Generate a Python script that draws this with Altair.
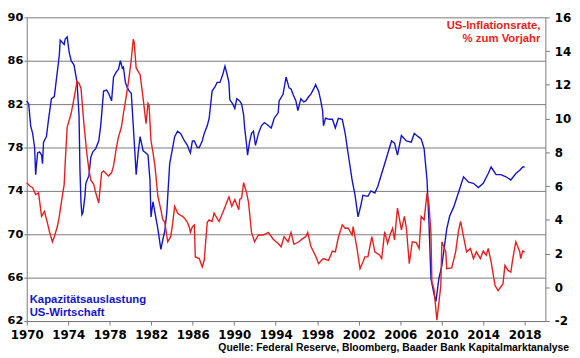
import altair as alt
import pandas as pd

# Capacity utilisation (left axis, %)
cu_year = [1970.00, 1970.19, 1970.38, 1970.57, 1970.76, 1970.86, 1970.95, 1971.05, 1971.24, 1971.43,
           1971.52, 1971.62, 1971.90, 1972.09, 1972.38, 1972.66, 1972.95, 1973.14, 1973.23, 1973.42,
           1973.61, 1973.71, 1973.90, 1974.09, 1974.28, 1974.56, 1974.85, 1975.04, 1975.13, 1975.23,
           1975.32, 1975.42, 1975.61, 1975.70, 1975.99, 1976.18, 1976.37, 1976.65, 1976.94, 1977.13,
           1977.41, 1977.70, 1977.89, 1978.18, 1978.37, 1978.65, 1978.84, 1979.03, 1979.22, 1979.32,
           1979.51, 1979.70, 1979.89, 1980.08, 1980.27, 1980.46, 1980.55, 1980.74, 1980.93, 1981.22,
           1981.50, 1981.69, 1981.88, 1981.98, 1982.17, 1982.36, 1982.64, 1982.93, 1983.12, 1983.31,
           1983.50, 1983.78, 1984.07, 1984.26, 1984.54, 1984.83, 1985.21, 1985.49, 1985.68, 1985.78,
           1985.97, 1986.16, 1986.44, 1986.63, 1986.92, 1987.11, 1987.40, 1987.59, 1987.87, 1988.16,
           1988.35, 1988.63, 1988.92, 1989.11, 1989.30, 1989.49, 1989.58, 1989.87, 1990.06, 1990.25,
           1990.53, 1990.72, 1990.91, 1991.01, 1991.20, 1991.29, 1991.48, 1991.67, 1991.86, 1992.05,
           1992.34, 1992.62, 1992.91, 1993.19, 1993.57, 1993.86, 1994.24, 1994.33, 1994.71, 1995.00,
           1995.29, 1995.48, 1995.67, 1995.95, 1996.14, 1996.43, 1996.71, 1996.90, 1997.19, 1997.38,
           1997.66, 1997.85, 1998.14, 1998.33, 1998.52, 1998.61, 1998.80, 1999.18, 1999.47, 1999.75,
           2000.04, 2000.42, 2000.70, 2000.99, 2001.37, 2001.65, 2001.94, 2002.22, 2002.41, 2002.89,
           2003.18, 2003.56, 2003.84, 2004.22, 2004.51, 2004.79, 2005.17, 2005.46, 2005.74, 2005.93,
           2006.12, 2006.60, 2007.07, 2007.36, 2007.74, 2008.02, 2008.31, 2008.59, 2008.78, 2008.97,
           2009.26, 2009.45, 2009.73, 2010.02, 2010.49, 2010.78, 2011.16, 2011.64, 2012.11, 2012.59,
           2013.06, 2013.54, 2014.01, 2014.49, 2014.77, 2015.25, 2015.72, 2016.20, 2016.67, 2017.15,
           2017.53, 2017.81, 2018.00]
cu_value = [82.3, 82.0, 80.0, 79.3, 78.0, 75.5, 76.5, 77.5, 77.6, 77.3,
            76.5, 78.5, 79.0, 80.5, 82.5, 82.7, 85.0, 86.5, 87.9, 87.7,
            87.5, 88.0, 88.2, 86.8, 86.0, 85.6, 84.0, 81.0, 76.0, 72.9,
            71.8, 72.0, 73.5, 74.7, 75.4, 77.1, 77.6, 77.9, 78.6, 80.0,
            83.2, 83.3, 83.0, 82.3, 84.5, 85.0, 85.2, 86.0, 85.3, 85.4,
            84.0, 83.5, 83.2, 83.0, 80.0, 77.0, 75.5, 77.5, 79.0, 77.7,
            77.5, 77.3, 75.0, 71.6, 73.0, 72.0, 70.5, 68.6, 69.5, 70.3,
            72.0, 76.5, 78.0, 79.0, 79.5, 79.3, 78.6, 78.2, 77.7, 77.5,
            78.6, 78.6, 78.0, 78.0, 78.6, 79.3, 80.0, 80.7, 83.2, 83.6,
            84.0, 84.0, 84.8, 85.5, 84.8, 84.0, 82.4, 82.0, 81.6, 82.5,
            82.3, 82.0, 81.0, 79.8, 78.2, 77.3, 78.5, 79.3, 79.5, 78.2,
            79.3, 80.0, 80.3, 80.1, 79.8, 80.7, 81.2, 82.3, 82.9, 84.5,
            83.5, 83.4, 82.9, 82.3, 81.4, 82.5, 82.2, 82.3, 82.7, 82.9,
            83.4, 83.8, 83.2, 82.4, 81.4, 80.0, 80.7, 80.6, 80.6, 79.8,
            80.7, 80.6, 79.3, 77.4, 75.0, 73.6, 71.6, 72.7, 73.6, 73.5,
            74.0, 73.8, 74.4, 75.6, 76.5, 77.4, 78.6, 78.4, 77.3, 78.2,
            79.1, 78.6, 78.5, 79.3, 79.0, 78.8, 77.9, 75.0, 71.0, 65.9,
            64.5, 63.8, 65.9, 67.1, 70.5, 71.7, 72.5, 73.9, 75.3, 74.8,
            74.7, 74.3, 74.7, 75.6, 76.2, 75.5, 75.5, 75.3, 75.0, 75.6,
            75.9, 76.2, 76.2]

# CPI inflation (right axis, % y/y)
cpi_year = [1970.00, 1970.29, 1970.57, 1970.86, 1971.14, 1971.43, 1971.71, 1972.00, 1972.19, 1972.47,
            1972.66, 1972.95, 1973.14, 1973.33, 1973.61, 1973.71, 1973.90, 1974.28, 1974.56, 1974.85,
            1975.04, 1975.23, 1975.51, 1975.80, 1975.99, 1976.18, 1976.46, 1976.65, 1976.94, 1977.22,
            1977.41, 1977.70, 1977.89, 1978.18, 1978.37, 1978.65, 1978.84, 1979.13, 1979.32, 1979.51,
            1979.79, 1980.08, 1980.27, 1980.36, 1980.55, 1980.74, 1980.93, 1981.22, 1981.50, 1981.69,
            1981.79, 1981.98, 1982.17, 1982.36, 1982.64, 1982.93, 1983.12, 1983.31, 1983.59, 1983.88,
            1984.07, 1984.26, 1984.54, 1984.73, 1985.02, 1985.21, 1985.49, 1985.68, 1985.78, 1985.97,
            1986.16, 1986.25, 1986.63, 1986.92, 1987.11, 1987.40, 1987.59, 1987.87, 1988.06, 1988.54,
            1989.01, 1989.49, 1989.77, 1990.06, 1990.44, 1990.53, 1990.72, 1990.91, 1991.20, 1991.39,
            1991.67, 1991.96, 1992.34, 1992.81, 1993.29, 1993.76, 1994.24, 1994.52, 1994.81, 1995.19,
            1995.48, 1995.76, 1996.24, 1996.62, 1996.90, 1997.09, 1997.38, 1997.85, 1998.14, 1998.42,
            1998.61, 1999.09, 1999.47, 1999.75, 2000.04, 2000.42, 2000.70, 2000.99, 2001.37, 2001.47,
            2001.84, 2002.13, 2002.41, 2002.60, 2002.89, 2003.27, 2003.56, 2004.03, 2004.22, 2004.51,
            2004.79, 2005.08, 2005.27, 2005.46, 2005.74, 2006.12, 2006.41, 2006.60, 2006.88, 2007.17,
            2007.55, 2007.83, 2008.02, 2008.31, 2008.59, 2008.78, 2008.97, 2009.06, 2009.26, 2009.54,
            2009.92, 2010.02, 2010.40, 2010.49, 2010.97, 2011.35, 2011.64, 2011.83, 2012.11, 2012.40,
            2012.78, 2013.06, 2013.35, 2013.73, 2014.01, 2014.30, 2014.49, 2014.77, 2014.96, 2015.15,
            2015.44, 2015.91, 2016.10, 2016.39, 2016.67, 2016.86, 2017.15, 2017.53, 2017.62, 2017.81,
            2018.00]
cpi_value = [6.2, 6.0, 5.9, 5.5, 5.6, 4.2, 4.5, 3.8, 3.3, 2.7,
             3.0, 3.6, 4.2, 5.0, 6.1, 7.4, 9.5, 10.3, 11.2, 12.2,
             12.1, 11.8, 9.7, 7.9, 7.0, 6.35, 6.1, 5.6, 5.0, 6.8,
             6.9, 6.7, 6.6, 6.8, 7.2, 8.3, 8.9, 9.5, 10.3, 11.0,
             12.1, 13.5, 14.7, 14.5, 13.0, 12.8, 12.6, 11.2, 9.7, 10.9,
             10.8, 8.7, 8.0, 7.2, 5.4, 4.6, 4.0, 3.85, 2.7, 3.0,
             3.8, 4.8, 4.4, 4.3, 4.2, 4.1, 3.85, 3.55, 3.25, 3.6,
             3.7, 1.8, 1.7, 1.2, 1.6, 3.85, 4.0, 3.9, 4.4, 3.9,
             4.6, 5.36, 4.8, 5.2, 4.6, 5.2, 5.3, 6.2, 5.6, 5.0,
             3.25, 2.7, 3.1, 3.1, 3.25, 2.85, 2.6, 2.4, 3.0, 2.7,
             3.25, 2.55, 2.7, 2.9, 3.0, 3.25, 2.45, 1.85, 1.4, 1.6,
             1.7, 1.6, 2.15, 2.1, 2.95, 3.7, 3.5, 3.5, 3.1, 3.6,
             2.3, 1.1, 1.5, 1.8, 1.8, 3.0, 2.1, 1.9, 1.7, 3.3,
             2.6, 3.2, 3.5, 2.8, 4.7, 3.4, 4.2, 3.5, 1.4, 2.7,
             2.65, 2.3, 4.2, 4.0, 5.6, 4.9, 3.2, 0.3, -0.1, -1.95,
             0.1, 2.7, 2.1, 1.1, 1.15, 2.1, 3.4, 3.9, 3.0, 2.1,
             2.3, 1.7, 2.1, 1.7, 2.15, 1.9, 2.3, 1.5, 0.8, 0.1,
             -0.2, 0.2, 1.3, 1.0, 0.9, 1.7, 2.7, 2.1, 1.7, 2.15,
             2.1]

x_ticks = list(range(1970, 2019, 4))
left_ticks = [62, 66, 70, 74, 78, 82, 86, 90]
right_ticks = [-2, 0, 2, 4, 6, 8, 10, 12, 14, 16]

BLUE = "#1414C8"
RED = "#E61E1E"
GRID = "#7a7a7a"
AXF = "DejaVu Sans"
TXF = "Liberation Sans"

cu = pd.DataFrame({"year": cu_year, "cu": cu_value})
cpi = pd.DataFrame({"year": cpi_year, "cpi": cpi_value})

xaxis = alt.Axis(values=x_ticks, format="d", grid=False, title=None,
                 labelFont=AXF, labelFontWeight="bold", labelFontSize=12,
                 labelColor="black", domainColor=GRID, tickColor=GRID,
                 tickSize=4, labelPadding=5, labelOverlap=False, labelFlush=False)
xscale = alt.Scale(domain=[1970, 2020], nice=False, zero=False)

blue = alt.Chart(cu).mark_line(color=BLUE, strokeWidth=1.4).encode(
    x=alt.X("year:Q", scale=xscale, axis=xaxis),
    y=alt.Y("cu:Q", scale=alt.Scale(domain=[62, 90], nice=False, zero=False),
            axis=alt.Axis(values=left_ticks, title=None, grid=True, gridColor=GRID,
                          gridWidth=1, gridOpacity=1, labelFont=AXF, labelFontWeight="bold",
                          labelFontSize=11.5, labelColor="black", domainColor=GRID,
                          tickColor=GRID, tickSize=3, labelPadding=1, labelOverlap=False)),
)

red = alt.Chart(cpi).mark_line(color=RED, strokeWidth=1.4).encode(
    x=alt.X("year:Q", scale=xscale, axis=xaxis),
    y=alt.Y("cpi:Q", scale=alt.Scale(domain=[-2, 16], nice=False, zero=False),
            axis=alt.Axis(orient="right", values=right_ticks, title=None, grid=False,
                          labelExpr="'' + datum.value",
                          labelFont=AXF, labelFontWeight="bold", labelFontSize=12,
                          labelColor="black", domainColor=GRID, tickColor=GRID,
                          tickSize=4, labelPadding=5, labelOverlap=False)),
)

lines = alt.layer(blue, red).resolve_scale(y="independent")

left_txt = pd.DataFrame({"t": ["Kapazitätsauslastung", "US-Wirtschaft"]})
right_txt = pd.DataFrame({"t": ["US-Inflationsrate,", "% zum Vorjahr"]})
src_txt = pd.DataFrame({"t": ["Quelle: Federal Reserve, Bloomberg, Baader Bank Kapitalmarktanalyse"]})

lt1 = alt.Chart(left_txt.iloc[[0]]).mark_text(align="left", baseline="middle", font=TXF,
        fontWeight="bold", fontSize=11.5, color=BLUE).encode(x=alt.value(3), y=alt.value(287), text="t:N")
lt2 = alt.Chart(left_txt.iloc[[1]]).mark_text(align="left", baseline="middle", font=TXF,
        fontWeight="bold", fontSize=11.5, color=BLUE).encode(x=alt.value(3), y=alt.value(300), text="t:N")
rt1 = alt.Chart(right_txt.iloc[[0]]).mark_text(align="right", baseline="middle", font=TXF,
        fontWeight="bold", fontSize=11.5, color=RED).encode(x=alt.value(521), y=alt.value(9), text="t:N")
rt2 = alt.Chart(right_txt.iloc[[1]]).mark_text(align="right", baseline="middle", font=TXF,
        fontWeight="bold", fontSize=11.5, color=RED).encode(x=alt.value(521), y=alt.value(22), text="t:N")
src = alt.Chart(src_txt).mark_text(align="right", baseline="middle", font=TXF,
        fontWeight="bold", fontSize=10.5, color="black").encode(x=alt.value(550), y=alt.value(335), text="t:N")

chart = alt.layer(lines, lt1, lt2, rt1, rt2, src).properties(
    width=526, height=308,
    autosize=alt.AutoSizeParams(type="none"),
    padding={"left": 19, "top": 7, "right": 27, "bottom": 35},
    background="white",
).configure_view(stroke=None)

chart.save("out.html", embed_options={"renderer": "svg", "actions": False})
